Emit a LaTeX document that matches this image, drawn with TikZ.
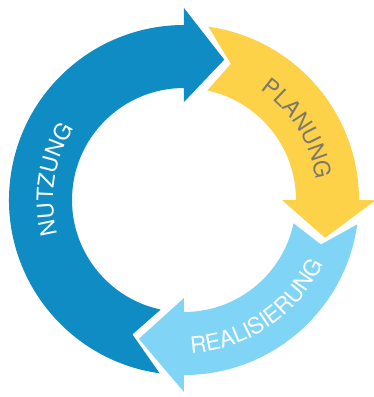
\documentclass[tikz,border=0pt]{standalone}
\usepackage{fontspec}
\setmainfont{TeX Gyre Heros}
\usetikzlibrary{decorations.text}
\definecolor{nutzblue}{RGB}{16,140,196}
\definecolor{planyellow}{RGB}{253,210,72}
\definecolor{realblue}{RGB}{128,212,245}
\definecolor{labelgray}{RGB}{125,120,110}
\newcommand{\labelfont}{\fontsize{16}{16}\selectfont}

\begin{document}
\begin{tikzpicture}[x=0.025cm, y=0.025cm,
    arclabel/.style={decorate, decoration={text along path, text align=center, text color=#1}}]
    \useasboundingbox (-184,-197) rectangle (190,200);

    % Nutzung: up the left side, head at the top
    \fill[nutzblue] (262:175) arc[start angle=262, end angle=90, radius=175]
        -- (90:192) -- (74:146) -- (90:98)
        -- (90:112) arc[start angle=90, end angle=258, radius=112]
        -- (249:144) -- cycle;

    % Planung: down the right side
    \fill[planyellow] (82:175) arc[start angle=82, end angle=0, radius=175]
        -- (0:192) -- (-15:146) -- (0:98)
        -- (0:112) arc[start angle=0, end angle=78, radius=112]
        -- (71:144) -- cycle;

    % Realisierung: along the bottom
    \fill[realblue] (-8:175) arc[start angle=-8, end angle=-90, radius=175]
        -- (-90:192) -- (-108:146) -- (-90:98)
        -- (-90:112) arc[start angle=-90, end angle=-12, radius=112]
        -- (-18:144) -- cycle;

    % Labels along the ring
    \path[arclabel=white, decoration={text={|\labelfont|NUTZUNG}}]
        (201:131) arc[start angle=201, end angle=141, radius=131];
    \path[arclabel=labelgray, decoration={text={|\labelfont|PLANUNG}}]
        (62:134) arc[start angle=62, end angle=2, radius=134];
    \path[arclabel=white, decoration={text={|\labelfont|REALISIERUNG}}]
        (264:153) arc[start angle=264, end angle=344, radius=153];
\end{tikzpicture}
\end{document}
